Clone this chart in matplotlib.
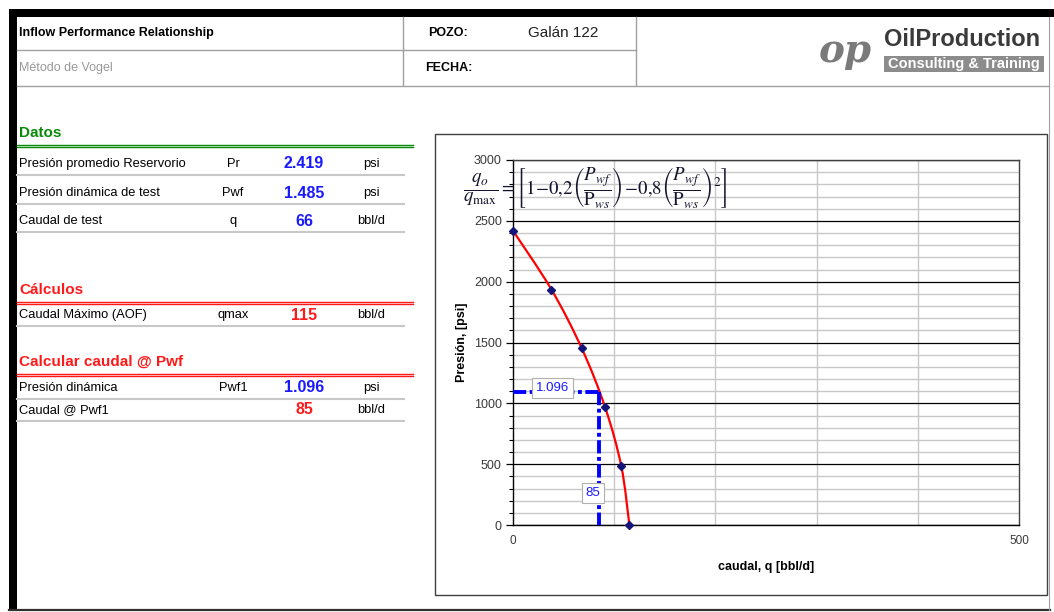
import matplotlib
matplotlib.use("Agg")
import matplotlib.pyplot as plt
from matplotlib.path import Path
from matplotlib.patches import PathPatch, Rectangle
from matplotlib.ticker import MultipleLocator, FixedLocator
import numpy as np

plt.rcParams['font.family'] = ['Liberation Sans', 'DejaVu Sans']
plt.rcParams['mathtext.fontset'] = 'stix'

# ---- data ----
well_name = "Galán 122"
input_labels = ["Presión promedio Reservorio", "Presión dinámica de test", "Caudal de test"]
input_symbols = ["Pr", "Pwf", "q"]
input_values = ["2.419", "1.485", "66"]
input_units = ["psi", "psi", "bbl/d"]

calc_labels = ["Caudal Máximo (AOF)"]
calc_symbols = ["qmax"]
calc_values = ["115"]
calc_units = ["bbl/d"]

pwf_labels = ["Presión dinámica", "Caudal @ Pwf1"]
pwf_symbols = ["Pwf1", ""]
pwf_values = ["1.096", "85"]
pwf_units = ["psi", "bbl/d"]

# IPR curve points (caudal bbl/d, presión psi)
q_points = [0, 38, 68, 91, 107, 115]
p_points = [2419, 1935, 1451, 968, 484, 0]

# Operating point
pwf1 = 1096
q_pwf1 = 85

W, H = 1054, 612
fig = plt.figure(figsize=(W / 100, H / 100), dpi=100)
fig.patch.set_facecolor("white")

# Sheet layer in pixel coordinates
bg = fig.add_axes([0, 0, 1, 1])
bg.set_xlim(0, W)
bg.set_ylim(H, 0)
bg.axis("off")
bg.set_zorder(0)

# outer frame
bg.add_patch(Rectangle((9, 9), W - 9, 8, color="black", lw=0))
bg.add_patch(Rectangle((9, 9), 7.5, 602, color="black", lw=0))
bg.plot([9, 1050], [610, 610], color="#303030", lw=1.6)
bg.plot([1049, 1049], [17, 610], color="#a0a0a0", lw=0.8)

# header grid
g = "#a0a0a0"
bg.plot([17, 636], [50, 50], color=g, lw=1)
bg.plot([17, 1049], [85.5, 85.5], color=g, lw=1)
bg.plot([403, 403], [17, 85], color=g, lw=1)
bg.plot([636, 636], [17, 85], color=g, lw=1)

bg.text(19, 33, "Inflow Performance Relationship", fontsize=9, fontweight="bold",
        va="center", ha="left", color="black")
bg.text(19, 68, "Método de Vogel", fontsize=9, va="center", ha="left", color="#999999")
bg.text(428, 33, "POZO:", fontsize=9, fontweight="bold", va="center", ha="left")
bg.text(528, 33, well_name, fontsize=11, va="center", ha="left", color="#202020")
bg.text(425, 68, "FECHA:", fontsize=9, fontweight="bold", va="center", ha="left")

# logo
bg.text(845, 51, "op", fontsize=28, fontstyle="italic", fontweight="bold", family="DejaVu Serif",
        color="#7a7a7a", ha="center", va="center")
bg.text(884, 40, "OilProduction", fontsize=17, fontweight="bold", color="#3a3a3a",
        ha="left", va="center")
bg.add_patch(Rectangle((884, 56), 160, 16, color="#8c8c8c", lw=0))
bg.text(964, 64, "Consulting & Training", fontsize=10.5, fontweight="bold", color="white",
        ha="center", va="center")


def section(title, y, color):
    bg.text(19, y, title, fontsize=11, fontweight="bold", color=color, ha="left", va="center")
    bg.plot([17, 413], [y + 11.5, y + 11.5], color=color, lw=1)
    bg.plot([17, 413], [y + 13.8, y + 13.8], color=color, lw=1)


def rows(labels, symbols, values, units, ys, vcolors, line_ys):
    for lab, sym, val, un, y, vc in zip(labels, symbols, values, units, ys, vcolors):
        bg.text(19, y, lab, fontsize=9.3, ha="left", va="center", color="black")
        bg.text(233, y, sym, fontsize=9.3, ha="center", va="center", color="black")
        bg.text(304, y, val, fontsize=11.5, fontweight="bold", ha="center", va="center", color=vc)
        bg.text(371, y, un, fontsize=9.3, ha="center", va="center", color="black")
    for ly in line_ys:
        bg.plot([17, 404], [ly, ly], color="#c8c8c8", lw=1.5)


blue_val = "#1a1aff"
red_val = "#ff1a1a"
section("Datos", 133, "#0a8a0a")
rows(input_labels, input_symbols, input_values, input_units, [164, 193, 221],
     [blue_val] * 3, [174.5, 203.5, 232])
section("Cálculos", 290, "#ff1a1a")
rows(calc_labels, calc_symbols, calc_values, calc_units, [315], [red_val], [325.5])
section("Calcular caudal @ Pwf", 362, "#ff1a1a")
rows(pwf_labels, pwf_symbols, pwf_values, pwf_units, [388, 410],
     [blue_val, red_val], [398.5, 421])

# chart frame
bg.add_patch(Rectangle((435, 134), 612, 461, fill=False, ec="#404040", lw=1))

# ---- chart ----
ax = fig.add_axes([513 / W, (H - 525) / H, 506 / W, 365 / H])
ax.set_zorder(1)
ax.set_facecolor("white")
ax.set_xlim(0, 500)
ax.set_ylim(0, 3000)

ax.xaxis.set_major_locator(FixedLocator([0, 500]))
ax.xaxis.set_minor_locator(MultipleLocator(100))
ax.yaxis.set_major_locator(MultipleLocator(500))
ax.yaxis.set_minor_locator(MultipleLocator(100))

ax.grid(which="minor", axis="y", color="#c8c8c8", lw=1)
ax.grid(which="minor", axis="x", color="#c8c8c8", lw=1)
ax.grid(which="major", axis="y", color="black", lw=0.9)
ax.set_axisbelow(True)

for s in ax.spines.values():
    s.set_color("#404040")
    s.set_linewidth(1)
ax.spines["left"].set_color("black")
ax.spines["bottom"].set_color("black")

tick_color = "#3a3a3a"
ax.tick_params(axis="y", which="major", length=5, width=0.9, color="black",
               labelsize=9, labelcolor=tick_color, pad=3)
ax.tick_params(axis="y", which="minor", length=3, width=0.8, color="black")
ax.tick_params(axis="x", which="major", length=0, labelsize=8.5, labelcolor=tick_color, pad=7)
ax.tick_params(axis="x", which="minor", length=0)
ax.set_xticklabels(["0", "500"])

ax.set_xlabel("caudal, q [bbl/d]", fontsize=9, fontweight="bold", labelpad=10)
ax.set_ylabel("Presión, [psi]", fontsize=9, fontweight="bold", labelpad=4)


def smooth_path(xs, ys, t=1 / 6):
    pts = np.column_stack([xs, ys]).astype(float)
    verts = [pts[0]]
    codes = [Path.MOVETO]
    n = len(pts)
    for i in range(n - 1):
        p0 = pts[i - 1] if i > 0 else pts[i]
        p1 = pts[i]
        p2 = pts[i + 1]
        p3 = pts[i + 2] if i + 2 < n else pts[i + 1]
        c1 = p1 + (p2 - p0) * t
        c2 = p2 - (p3 - p1) * t
        verts += [c1, c2, p2]
        codes += [Path.CURVE4] * 3
    return Path(verts, codes)


ax.add_patch(PathPatch(smooth_path(q_points, p_points), fill=False, ec="#ff0000", lw=1.6,
                       zorder=3))
ax.plot(q_points, p_points, ls="none", marker="D", ms=4, mfc="#14147a", mec="#14147a",
        zorder=4, clip_on=False)

dash = (0, (3.4, 0.9, 1.0, 0.9))
ax.plot([0, q_pwf1], [pwf1, pwf1], color="#0000ff", lw=2.8, ls=dash, zorder=5,
        dash_capstyle="butt")
ax.plot([q_pwf1, q_pwf1], [pwf1, 0], color="#0000ff", lw=2.8, ls=dash, zorder=5,
        dash_capstyle="butt")

box = dict(boxstyle="square,pad=0.3", fc="white", ec="#b0b0b0", lw=0.8)
ax.text(39, 1126, pwf_values[0], fontsize=9.5, color="#1a1aff", ha="center", va="center",
        bbox=box, zorder=6)
ax.text(79, 263, pwf_values[1], fontsize=9.5, color="#1a1aff", ha="center", va="center",
        bbox=box, zorder=6)

# Vogel equation
eq = (r"$\dfrac{q_o}{q_{\max}}=\left[1\!-\!0{,}2\left(\dfrac{P_{wf}}{\mathrm{P}_{ws}}\right)"
      r"\!-\!0{,}8\left(\dfrac{P_{wf}}{\mathrm{P}_{ws}}\right)^{2}\right]$")
fig.text(463, 188, eq, transform=bg.transData, fontsize=13.6, ha="left", va="center",
         color="#151530", zorder=10)

fig.savefig("out.png", dpi=100, facecolor="white")
